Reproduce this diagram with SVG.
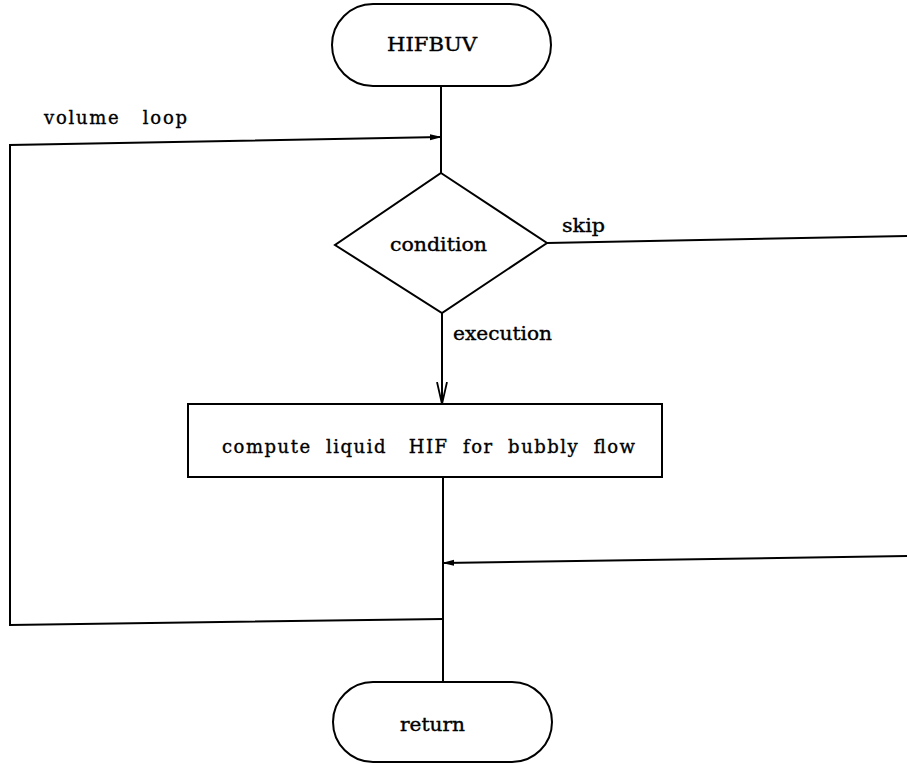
<svg xmlns="http://www.w3.org/2000/svg" width="907" height="764" viewBox="0 0 907 764">
  <style>
    .shape { fill: #fff; stroke: #000; stroke-width: 2; }
    .wire { fill: none; stroke: #000; stroke-width: 2; }
    .lbl { font-family: "DejaVu Serif", "Liberation Serif", serif; font-size: 18px; fill: #000; stroke: #000; stroke-width: 0.35; white-space: pre; }
  </style>
  <defs>
    <marker id="solid" markerWidth="12" markerHeight="8" refX="11" refY="4" orient="auto" markerUnits="userSpaceOnUse">
      <path d="M0,1 L12,4 L0,7 Z" fill="#000"/>
    </marker>
    <marker id="open" markerWidth="12" markerHeight="24" refX="6" refY="22" orient="0" markerUnits="userSpaceOnUse">
      <path d="M1,0 L6,22 L11,0" fill="none" stroke="#000" stroke-width="1.8"/>
    </marker>
  </defs>

  <g id="connectors">
    <!-- start to decision -->
    <line class="wire" x1="441" y1="86" x2="441" y2="173"/>
    <!-- volume loop back edge -->
    <polyline class="wire" points="443,619 10,625 10,145 441,137" marker-end="url(#solid)"/>
    <!-- execution branch -->
    <line class="wire" x1="442" y1="313" x2="442" y2="404" marker-end="url(#open)"/>
    <!-- skip branch out to the right and back -->
    <line class="wire" x1="547" y1="243" x2="907" y2="236"/>
    <line class="wire" x1="907" y1="556" x2="443" y2="563" marker-end="url(#solid)"/>
    <!-- box to return -->
    <line class="wire" x1="443" y1="477" x2="443" y2="682"/>
  </g>

  <g id="start">
    <rect class="shape" x="332" y="4" width="219" height="82" rx="41" ry="41"/>
    <text class="lbl" x="387" y="51" font-size="19" textLength="90" lengthAdjust="spacingAndGlyphs">HIFBUV</text>
  </g>

  <g id="decision">
    <polygon class="shape" points="441,173 547,243 442,313 335,245"/>
    <text class="lbl" x="390" y="251" textLength="97" lengthAdjust="spacingAndGlyphs">condition</text>
  </g>

  <g id="process">
    <rect class="shape" x="188" y="404" width="474" height="73"/>
    <text class="lbl" x="222" y="453" textLength="413" lengthAdjust="spacing" xml:space="preserve">compute  liquid   HIF  for  bubbly  flow</text>
  </g>

  <g id="end">
    <rect class="shape" x="333" y="682" width="219" height="80" rx="40" ry="40"/>
    <text class="lbl" x="400" y="731" textLength="65" lengthAdjust="spacingAndGlyphs">return</text>
  </g>

  <g id="labels">
    <text class="lbl" x="44" y="124" textLength="143" lengthAdjust="spacing" xml:space="preserve">volume   loop</text>
    <text class="lbl" x="562" y="232" textLength="43" lengthAdjust="spacingAndGlyphs">skip</text>
    <text class="lbl" x="453" y="340" textLength="99" lengthAdjust="spacingAndGlyphs">execution</text>
  </g>
</svg>
